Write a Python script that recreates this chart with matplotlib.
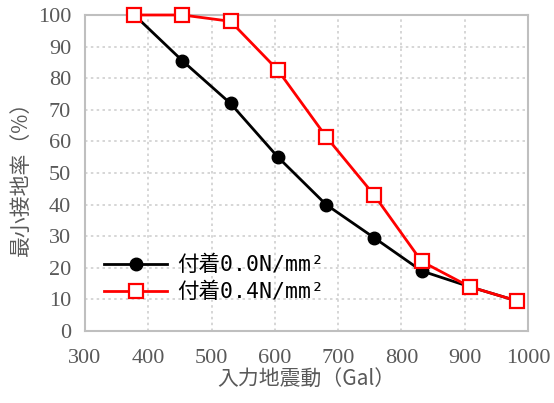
import matplotlib
matplotlib.use("Agg")
import matplotlib.pyplot as plt

x_gal = [378, 454, 530, 605, 681, 757, 832, 908, 983]
ratio_00 = [100, 85.5, 72, 55, 40, 29.5, 19, 14, 9.5]
ratio_04 = [100, 100, 98, 82.5, 61.5, 43, 22, 14, 9.5]
labels = ["付着0.0N/mm²", "付着0.4N/mm²"]
xticks = [300, 400, 500, 600, 700, 800, 900, 1000]
yticks = [0, 10, 20, 30, 40, 50, 60, 70, 80, 90, 100]

gray = "#595959"
jp = ["Noto Sans CJK JP", "DejaVu Sans"]
mono_jp = ["DejaVu Sans Mono", "Noto Sans CJK JP"]

fig = plt.figure(figsize=(5.54, 4.03), dpi=100)
ax = fig.add_axes([0.1534, 0.1787, 0.7996, 0.7841])

ax.plot(x_gal, ratio_00, color="black", lw=2, marker="o", ms=9,
        mfc="black", mec="black", label=labels[0], zorder=3, clip_on=False)
ax.plot(x_gal, ratio_04, color="#ff0000", lw=2, marker="s", ms=10.5,
        mfc="white", mec="#ff0000", mew=1.6, label=labels[1], zorder=4, clip_on=False)

ax.set_xlim(300, 1000)
ax.set_ylim(0, 100)
ax.set_xticks(xticks)
ax.set_yticks(yticks)
ax.grid(True, color="#d0d0d0", ls=(0, (1.5, 2)), lw=1.2)
ax.set_axisbelow(True)
for s in ax.spines.values():
    s.set_color("#bfbfbf")
    s.set_linewidth(1.5)
ax.tick_params(axis="x", length=0, pad=13, labelcolor=gray, labelsize=16)
ax.tick_params(axis="y", length=0, pad=10, labelcolor=gray, labelsize=16)
for lbl in ax.get_xticklabels() + ax.get_yticklabels():
    lbl.set_family("Liberation Serif")

ax.set_xlabel("入力地震動（Gal）", family=jp, color=gray, fontsize=15, labelpad=0)
ax.set_ylabel("最小接地率（%）", family=jp, color=gray, fontsize=15, labelpad=4)

leg = ax.legend(loc="lower left", bbox_to_anchor=(0.0, 0.03), frameon=False,
                prop={"family": mono_jp, "size": 15.5}, handlelength=2.9,
                labelspacing=0.3, handletextpad=0.5)

fig.savefig("out.png", dpi=100)
